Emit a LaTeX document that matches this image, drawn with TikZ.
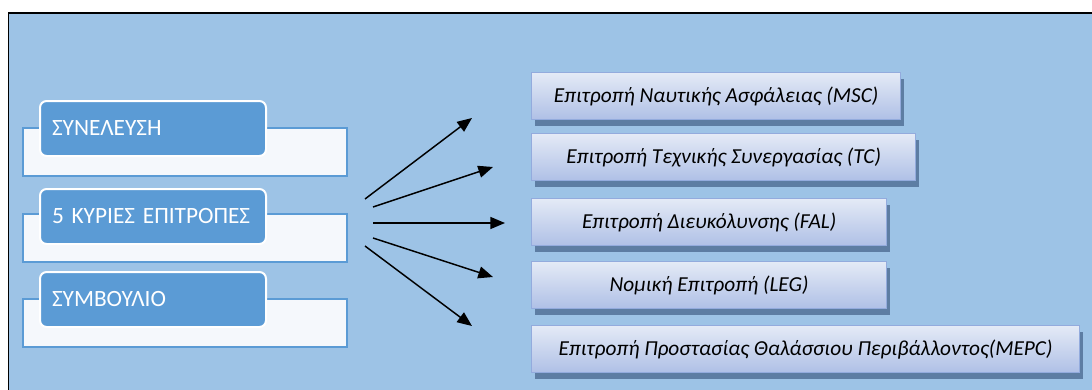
\documentclass[tikz,border=0pt]{standalone}
\usepackage{fontspec}
\setmainfont{Carlito}
\usetikzlibrary{arrows.meta,shadows}
\definecolor{bg}{HTML}{9DC3E6}
\definecolor{frontc}{HTML}{5B9BD5}
\definecolor{backc}{HTML}{F5F8FC}
\definecolor{rtop}{HTML}{E4EAF6}
\definecolor{rbot}{HTML}{AFC0E6}
\definecolor{rborder}{HTML}{93ABDD}
\definecolor{shadowc}{HTML}{5D7DA3}
\begin{document}
\begin{tikzpicture}[x=0.75pt,y=-0.75pt,
  backbox/.style={draw=frontc, line width=1.5pt, fill=backc, anchor=north west,
    minimum width=243pt, minimum height=36pt, inner sep=0pt},
  frontbox/.style={draw=white, line width=1.5pt, fill=frontc, rounded corners=5pt,
    anchor=north west, minimum width=169.5pt, minimum height=41.25pt,
    inner xsep=9pt, inner ysep=0pt, text width=151.5pt, align=left,
    text=white, font=\fontsize{17.5}{20}\selectfont},
  rbox/.style={draw=rborder, line width=1pt, top color=rtop, bottom color=rbot,
    anchor=north west, minimum height=35.25pt, inner sep=0pt,
    font=\fontsize{16}{18}\selectfont\itshape,
    drop shadow={shadow xshift=2.5pt, shadow yshift=-4.5pt, fill=shadowc, opacity=1}},
  arr/.style={line width=1.1pt, -{Triangle[length=11pt,width=9pt]}}]
\useasboundingbox (0,0) rectangle (1092,389);
\fill[bg] (8,13) rectangle (1100,400);
\draw[black, line width=1.3pt] (1100,13) -- (8.5,13) -- (8.5,400);

% left stacked boxes
\node[backbox] (b1) at (22,127) {};
\node[backbox] (b2) at (22,213) {};
\node[backbox] (b3) at (22,298) {};
\node[frontbox] (f1) at (39,100) {ΣΥΝΕΛΕΥΣΗ};
\node[frontbox] (f2) at (39,188) {5 ΚΥΡΙΕΣ ΕΠΙΤΡΟΠΕΣ};
\node[frontbox] (f3) at (39,271) {ΣΥΜΒΟΥΛΙΟ};

% right boxes
\node[rbox, minimum width=276.75pt] (r1) at (531,72) {Επιτροπή Ναυτικής Ασφάλειας (MSC)};
\node[rbox, minimum width=288pt] (r2) at (531,133) {Επιτροπή Τεχνικής Συνεργασίας (TC)};
\node[rbox, minimum width=266.25pt] (r3) at (531,198) {Επιτροπή Διευκόλυνσης (FAL)};
\node[rbox, minimum width=266.25pt] (r4) at (531,261) {Νομική Επιτροπή (LEG)};
\node[rbox, minimum width=411pt] (r5) at (531,325) {Επιτροπή Προστασίας Θαλάσσιου Περιβάλλοντος(MEPC)};

% arrows
\coordinate (s1) at (365,199); \coordinate (e1) at (472,118);
\coordinate (s2) at (373,207); \coordinate (e2) at (493,167);
\coordinate (s3) at (373,223); \coordinate (e3) at (505,223);
\coordinate (s4) at (373,238); \coordinate (e4) at (493,277);
\coordinate (s5) at (365,246); \coordinate (e5) at (472,326);
\foreach \i in {1,...,5} \draw[arr] (s\i) -- (e\i);
\end{tikzpicture}
\end{document}
